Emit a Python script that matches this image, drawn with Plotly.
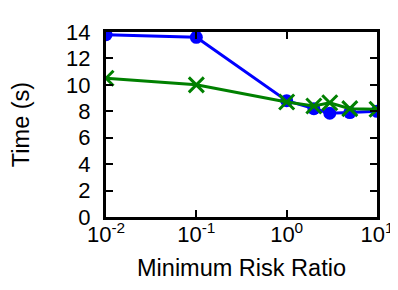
import plotly.graph_objects as go

x_vals = [0.01, 0.1, 1, 2, 3, 5, 10]
blue_vals = [13.8, 13.6, 8.8, 8.2, 7.85, 7.9, 8.0]
green_vals = [10.5, 10.0, 8.7, 8.4, 8.65, 8.2, 8.15]
x_tickvals = [0.01, 0.1, 1, 10]
x_ticktext = ["10<sup>-2</sup>", "10<sup>-1</sup>", "10<sup>0</sup>", "10<sup>1</sup>"]
y_tickvals = [0, 2, 4, 6, 8, 10, 12, 14]

fig = go.Figure()
fig.add_trace(go.Scatter(x=x_vals, y=blue_vals, mode="lines+markers",
                         line=dict(color="#0000ff", width=3),
                         marker=dict(symbol="circle", size=13, color="#0000ff")))
fig.add_trace(go.Scatter(x=x_vals, y=green_vals, mode="lines+markers",
                         line=dict(color="#008000", width=3),
                         marker=dict(symbol="x-thin", size=15,
                                     line=dict(color="#008000", width=3), color="#008000")))

font = "Liberation Sans, Arial, Helvetica, sans-serif"
fig.update_layout(
    width=398, height=290,
    margin=dict(l=98, r=20, t=23, b=81),
    paper_bgcolor="white", plot_bgcolor="white",
    showlegend=False,
    font=dict(family=font, size=22, color="black"),
    xaxis=dict(type="log", range=[-2, 1], tickvals=x_tickvals, ticktext=x_ticktext,
               tickfont=dict(size=22),
               ticks="inside", ticklen=7, tickwidth=1.5, tickcolor="black",
               showline=True, linewidth=3, linecolor="black", mirror="ticks",
               showgrid=False, zeroline=False, ticklabelstandoff=-4,
               title=dict(text="Minimum Risk Ratio", standoff=14, font=dict(size=23.5))),
    yaxis=dict(range=[0, 14], tickvals=y_tickvals, tickfont=dict(size=22),
               ticks="inside", ticklen=7, tickwidth=1.5, tickcolor="black",
               showline=True, linewidth=3, linecolor="black", mirror="ticks",
               showgrid=False, zeroline=False, ticklabelstandoff=8,
               title=dict(text="Time (s)", standoff=30, font=dict(size=23.5))),
)
fig.write_html("out.html")
